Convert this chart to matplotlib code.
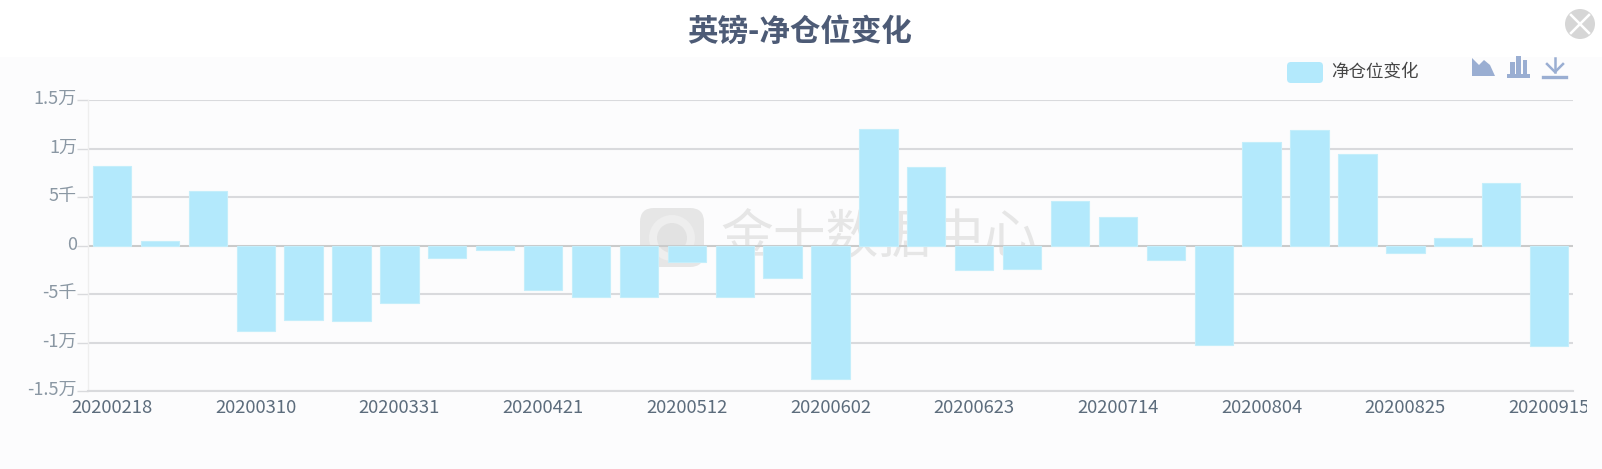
import matplotlib
matplotlib.use("Agg")
import matplotlib.pyplot as plt
from matplotlib.patches import Rectangle, FancyBboxPatch, Circle, Polygon
from matplotlib.lines import Line2D
from matplotlib.transforms import Bbox, ScaledTranslation

plt.rcParams["font.family"] = ["Noto Sans CJK SC", "DejaVu Sans"]

W, H = 1602, 469

dates = [
    "20200218", "20200225", "20200303", "20200310", "20200317", "20200324",
    "20200331", "20200407", "20200414", "20200421", "20200428", "20200505",
    "20200512", "20200519", "20200526", "20200602", "20200609", "20200616",
    "20200623", "20200630", "20200707", "20200714", "20200721", "20200728",
    "20200804", "20200811", "20200818", "20200825", "20200901", "20200908",
    "20200915",
]
net_change = [
    8200, 500, 5600, -8800, -7700, -7800, -5900, -1300, -450, -4600, -5300,
    -5300, -1700, -5300, -3300, -13800, 12000, 8100, -2500, -2450, 4600, 2900,
    -1500, -10300, 10700, 11900, 9400, -800, 750, 6400, -10400,
]
y_ticks = [-15000, -10000, -5000, 0, 5000, 10000, 15000]
y_labels = ["-1.5万", "-1万", "-5千", "0", "5千", "1万", "1.5万"]

BAR_COLOR = "#b3e9fc"
GRID_COLOR = "#d9dadd"
ICON_COLOR = "#9aaed2"


def fx(px):
    return px / W


def fy(py):
    return 1 - py / H


def add_px_rect(fig, x0, y0, x1, y1, **kw):
    fig.add_artist(Rectangle((fx(x0), fy(y1)), (x1 - x0) / W, (y1 - y0) / H,
                             transform=fig.transFigure, **kw))


def add_px_poly(fig, pts, **kw):
    fig.add_artist(Polygon([(fx(x), fy(y)) for x, y in pts],
                           transform=fig.transFigure, **kw))


def add_px_line(fig, xs, ys, **kw):
    fig.add_artist(Line2D([fx(x) for x in xs], [fy(y) for y in ys],
                          transform=fig.transFigure, **kw))


def main():
    fig = plt.figure(figsize=(W / 100, H / 100), dpi=100, facecolor="white")

    # chart panel background
    add_px_rect(fig, 0, 57, W, H, facecolor="#fcfcfd", edgecolor="none", zorder=-5)

    # watermark, sits behind the bars
    fig.add_artist(FancyBboxPatch((640 + 12, H - 267 + 12), 64 - 24, 59 - 24,
                                  boxstyle="round,pad=12,rounding_size=14",
                                  transform=None, facecolor="#e6e6e6",
                                  edgecolor="none", zorder=-4))
    fig.add_artist(Circle((672, H - 238), 23, transform=None, facecolor="#eeeeee",
                          edgecolor="none", zorder=-4))
    fig.add_artist(Circle((672, H - 238), 15, transform=None, facecolor="#e2e2e2",
                          edgecolor="none", zorder=-4))
    fig.text(fx(879), fy(237), "金十数据中心", fontsize=38, color="#e6e6e6",
             ha="center", va="center", zorder=-4)

    ax = fig.add_axes([fx(88), fy(391), (1573 - 88) / W, (391 - 100) / H])
    ax.patch.set_visible(False)
    x = list(range(len(dates)))
    ax.bar(x, net_change, width=0.8, color=BAR_COLOR, edgecolor="#c4eefb",
           linewidth=0.8, zorder=3)
    ax.axhline(0, color="#c8c8c8", linewidth=1.2, zorder=2)

    ax.set_xlim(-0.5, len(dates) - 0.5)
    ax.set_ylim(-15000, 15000)
    ax.set_yticks(y_ticks)
    ax.set_yticklabels(y_labels, fontsize=13, color="#8a97a3")
    ax.set_xticks(x[::3])
    ax.set_xticklabels(dates[::3], fontsize=13.3, color="#5c6c7c")
    ax.grid(axis="y", color=GRID_COLOR, linewidth=1.5, zorder=1)
    ax.tick_params(axis="y", length=8, width=1, color=GRID_COLOR, pad=0)
    ax.tick_params(axis="x", length=0, pad=6)

    # y labels sit a little above their gridlines in the original
    up = ScaledTranslation(0, 3 / 100, fig.dpi_scale_trans)
    for label in ax.get_yticklabels():
        label.set_transform(label.get_transform() + up)

    for side in ("top", "right"):
        ax.spines[side].set_visible(False)
    ax.spines["left"].set_color("#eeeeee")
    ax.spines["left"].set_linewidth(1)
    ax.spines["bottom"].set_color(GRID_COLOR)
    ax.spines["bottom"].set_linewidth(1.5)

    # the last date is cut off in the original
    last = ax.get_xticklabels()[-1]
    last.set_clip_box(Bbox([[0, 0], [1587, H]]))
    last.set_clip_on(True)

    fig.text(fx(800), fy(32), "英镑-净仓位变化", fontsize=22, fontweight="bold",
             color="#4d5b76", ha="center", va="center")

    # legend
    fig.add_artist(FancyBboxPatch((1290, H - 80), 30, 15,
                                  boxstyle="round,pad=3,rounding_size=4",
                                  transform=None, facecolor=BAR_COLOR,
                                  edgecolor="none"))
    fig.text(fx(1331), fy(72), "净仓位变化", fontsize=12.6, color="#454545",
             ha="left", va="center")

    # toolbox icons
    add_px_poly(fig, [(1472, 76), (1472, 58), (1479, 65), (1484, 60), (1490, 65),
                      (1495, 76)], facecolor=ICON_COLOR, edgecolor="none")
    add_px_rect(fig, 1507, 74, 1530, 78, facecolor=ICON_COLOR, edgecolor="none")
    add_px_rect(fig, 1510, 62, 1515, 75, facecolor=ICON_COLOR, edgecolor="none")
    add_px_rect(fig, 1516, 56, 1521, 75, facecolor=ICON_COLOR, edgecolor="none")
    add_px_rect(fig, 1523, 60, 1527, 75, facecolor=ICON_COLOR, edgecolor="none")
    add_px_line(fig, [1543, 1566], [77, 77], color=ICON_COLOR, linewidth=2.4)
    add_px_line(fig, [1555, 1555], [58, 72], color=ICON_COLOR, linewidth=1.8)
    add_px_line(fig, [1547, 1555, 1563], [64, 72, 64], color=ICON_COLOR, linewidth=1.8)

    # close button
    fig.add_artist(Circle((1580, H - 24), 15, transform=None, facecolor="#d6d6d6",
                          edgecolor="none"))
    add_px_line(fig, [1571, 1589], [15, 33], color="white", linewidth=1.8)
    add_px_line(fig, [1571, 1589], [33, 15], color="white", linewidth=1.8)

    fig.savefig("out.png", dpi=100, facecolor="white")


if __name__ == "__main__":
    main()
